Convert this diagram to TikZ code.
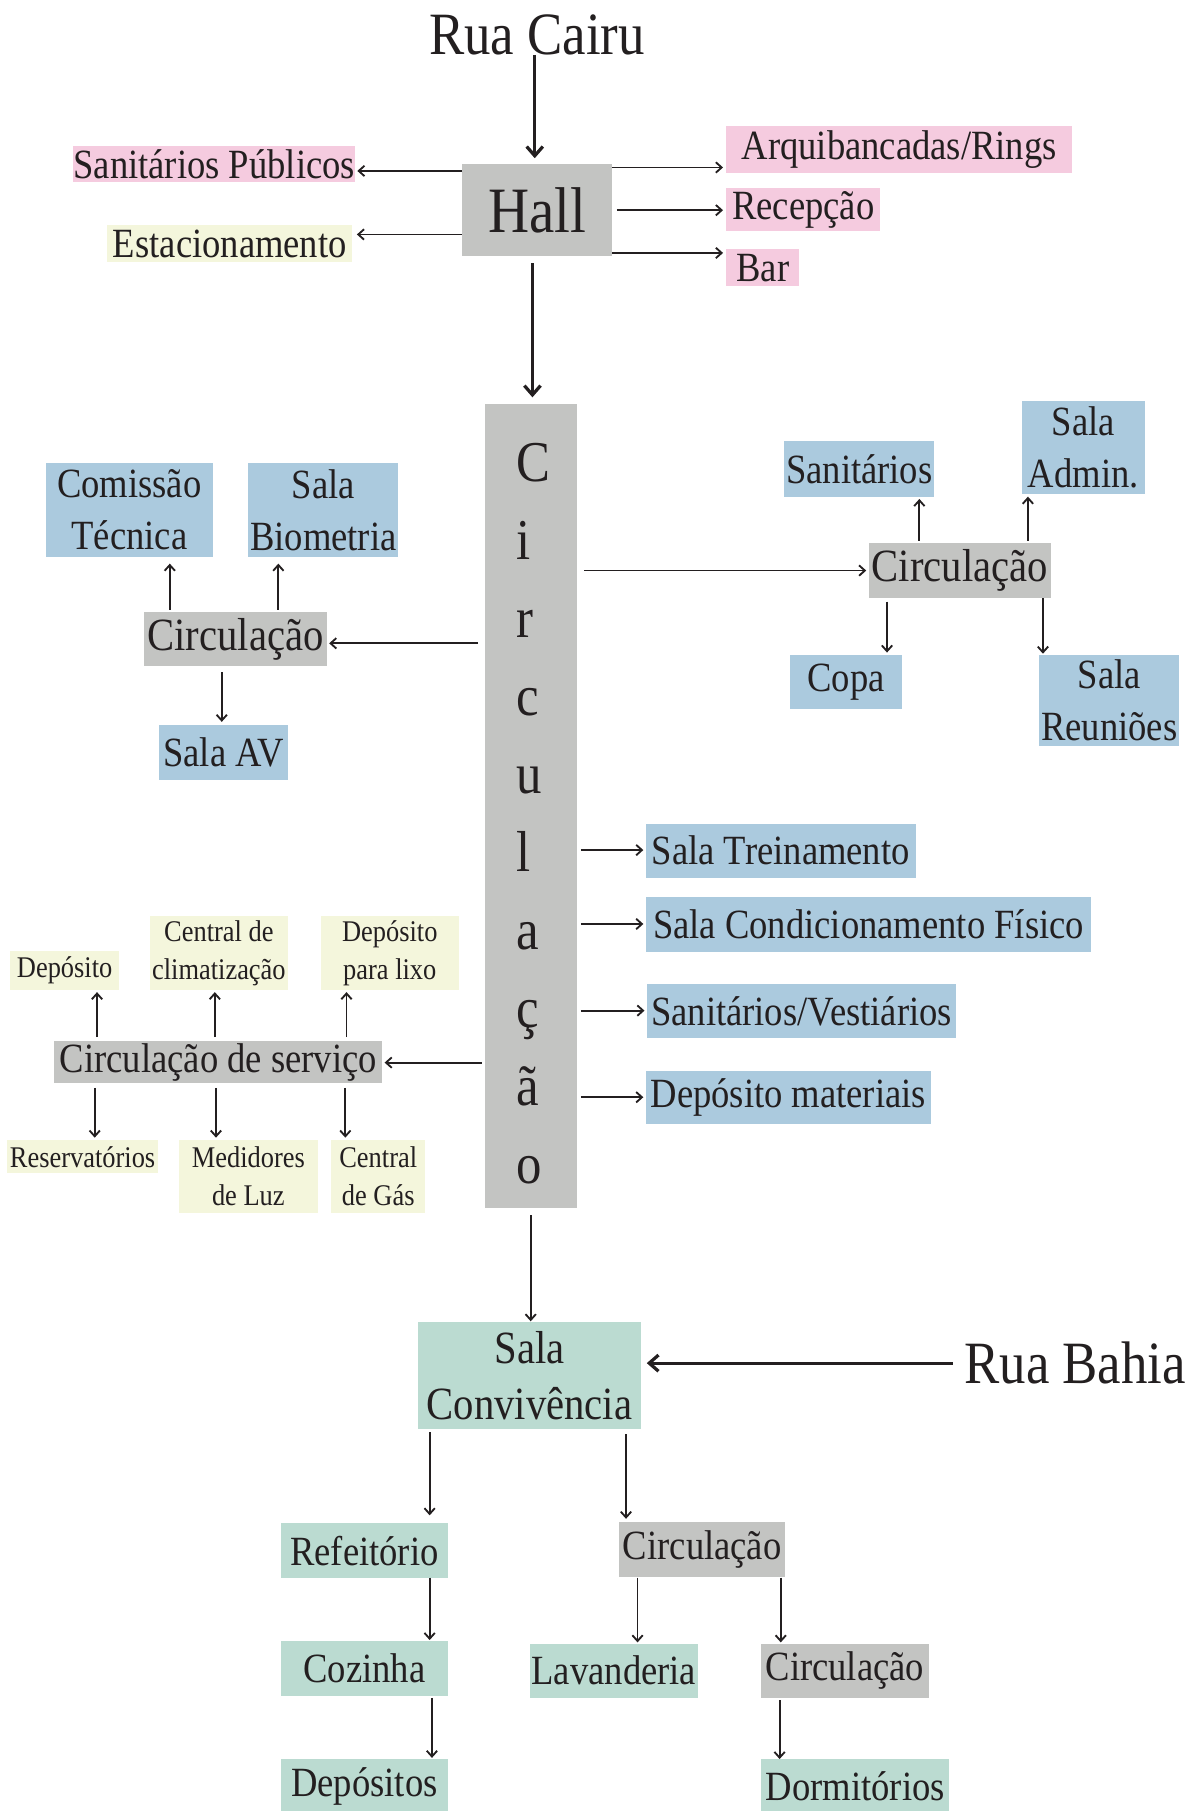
\documentclass[tikz,border=0pt]{standalone}
\usepackage{fontspec}
\setmainfont{Liberation Serif}[FakeStretch=0.88]
\usetikzlibrary{arrows.meta}
\definecolor{ink}{HTML}{231F20}
\definecolor{grayc}{HTML}{C3C4C2}
\definecolor{pinkc}{HTML}{F5CBDF}
\definecolor{yelc}{HTML}{F4F6DC}
\definecolor{bluec}{HTML}{ABCADE}
\definecolor{greenc}{HTML}{BBDBD1}
\tikzset{
  bx/.style={rectangle, inner sep=0pt, outer sep=0pt, text=ink, align=center},
  grayb/.style={bx, fill=grayc},
  pinkb/.style={bx, fill=pinkc},
  yelb/.style={bx, fill=yelc},
  blueb/.style={bx, fill=bluec},
  greenb/.style={bx, fill=greenc},
  fbig/.style={font=\fontsize{52}{60}\selectfont},
  fhall/.style={font=\fontsize{56}{60}\selectfont},
  fcol/.style={font=\fontsize{50}{50}\selectfont},
  fcirc/.style={font=\fontsize{40}{45}\selectfont},
  fconv/.style={font=\fontsize{40}{49}\selectfont},
  fmid/.style={font=\fontsize{36}{45}\selectfont},
  fsmall/.style={font=\fontsize{26}{33}\selectfont},
  arr/.style={draw=ink, line width=1.6pt, -{Straight Barb[length=5pt,width=9pt]}},
  bigarr/.style={draw=ink, line width=2.8pt, -{Straight Barb[length=8pt,width=14pt]}},
}
\begin{document}
\begin{tikzpicture}[x=1pt,y=-1pt]
\useasboundingbox (0,0) rectangle (1039,1568);
\clip (0,0) rectangle (1039,1568);

% ---- top ----
\node[bx, fbig, anchor=base] (cairu) at (465,47) {Rua Cairu};
\node[grayb, fhall, minimum width=130pt, minimum height=80pt] (hall) at (465,182) {Hall};
\node[pinkb, fmid, minimum width=239pt, minimum height=32pt] (sp) at (185.5,142) {Sanitários Públicos};
\node[yelb, fmid, minimum width=212pt, minimum height=32pt] (est) at (199,211) {Estacionamento};
\node[pinkb, fmid, minimum width=299pt, minimum height=41pt] (arq) at (778.5,129.5) {Arquibancadas/Rings};
\node[pinkb, fmid, minimum width=133pt, minimum height=37pt] (rec) at (695.5,181.5) {Recepção};
\node[pinkb, fmid, minimum width=63pt, minimum height=32pt] (bar) at (660.5,232) {Bar};

% ---- main column ----
\node[grayb, minimum width=80pt, minimum height=696pt] (col) at (460,698) {};
\foreach \l/\y [count=\i] in {C/417,i/484.5,r/552,c/619.5,u/687,l/754.5,a/822,ç/889.5,ã/957,o/1024.5}
  \node[bx, fcol, anchor=base west] (c\i) at (447,\y) {\l};

% ---- left upper ----
\node[grayb, fcirc, minimum width=158pt, minimum height=47pt] (circl) at (204,553.5) {Circulação};
\node[blueb, fmid, minimum width=144pt, minimum height=81pt] (comt) at (112,441.5) {Comissão\\Técnica};
\node[blueb, fmid, minimum width=130pt, minimum height=81pt] (bio) at (280,441.5) {Sala\\Biometria};
\node[blueb, fmid, minimum width=111pt, minimum height=47pt] (av) at (193.5,651.5) {Sala AV};

% ---- right upper ----
\node[grayb, fcirc, minimum width=158pt, minimum height=48pt] (circr) at (831,494) {Circulação};
\node[blueb, fmid, minimum width=130pt, minimum height=48pt] (san) at (744,406) {Sanitários};
\node[blueb, fmid, minimum width=106pt, minimum height=81pt] (adm) at (938,387.5) {Sala\\Admin.};
\node[blueb, fmid, minimum width=97pt, minimum height=47pt] (copa) at (732.5,590.5) {Copa};
\node[blueb, fmid, minimum width=121pt, minimum height=79pt] (reu) at (960.5,606.5) {Sala\\Reuniões};

% ---- right list ----
\node[blueb, fmid, minimum width=234pt, minimum height=47pt] (trein) at (676,736.5) {Sala Treinamento};
\node[blueb, fmid, minimum width=386pt, minimum height=47pt] (cond) at (752,800.5) {Sala Condicionamento Físico};
\node[blueb, fmid, minimum width=268pt, minimum height=47pt] (vest) at (694,875.5) {Sanitários/Vestiários};
\node[blueb, fmid, minimum width=247pt, minimum height=46pt] (depm) at (682.5,950) {Depósito materiais};

% ---- service ----
\node[grayb, fmid, minimum width=284pt, minimum height=37pt] (serv) at (189,919.5) {Circulação de serviço};
\node[yelb, fsmall, minimum width=94pt, minimum height=34pt] (dep) at (56,840) {Depósito};
\node[yelb, fsmall, minimum width=119pt, minimum height=64pt] (clim) at (189.5,825) {Central de\\climatização};
\node[yelb, fsmall, minimum width=119pt, minimum height=64pt] (lixo) at (337.5,825) {Depósito\\para lixo};
\node[yelb, fsmall, minimum width=131pt, minimum height=29pt] (res) at (71.5,1001.5) {Reservatórios};
\node[yelb, fsmall, minimum width=120pt, minimum height=63pt] (med) at (215,1018.5) {Medidores\\de Luz};
\node[yelb, fsmall, minimum width=81pt, minimum height=63pt] (gas) at (327.5,1018.5) {Central\\de Gás};

% ---- bottom ----
\node[greenb, fconv, minimum width=193pt, minimum height=92pt] (conv) at (458.5,1191) {Sala\\Convivência};
\node[bx, fbig, anchor=base west, inner xsep=10pt] (bahia) at (825,1198) {Rua Bahia};
\node[greenb, fmid, minimum width=145pt, minimum height=47pt] (ref) at (315.5,1342.5) {Refeitório};
\node[grayb, fmid, minimum width=144pt, minimum height=47pt] (circb1) at (608,1341.5) {Circulação};
\node[greenb, fmid, minimum width=145pt, minimum height=47pt] (coz) at (315.5,1444.5) {Cozinha};
\node[greenb, fmid, minimum width=145pt, minimum height=47pt] (lav) at (531.5,1446.5) {Lavanderia};
\node[grayb, fmid, minimum width=145pt, minimum height=47pt] (circb2) at (731.5,1446.5) {Circulação};
\node[greenb, fmid, minimum width=145pt, minimum height=47pt] (deps) at (315.5,1546.5) {Depósitos};
\node[greenb, fmid, minimum width=163pt, minimum height=47pt] (dorm) at (740.5,1546.5) {Dormitórios};

% ---- connectors ----
\draw[bigarr, shorten >=5pt] (cairu.south -| 463,0) -- (hall.north -| 463,0);
\draw[arr, shorten >=2pt] (hall.west |- 0,148) -- (sp.east |- 0,148);
\draw[arr, shorten >=4pt] (hall.west |- 0,203) -- (est.east |- 0,203);
\draw[arr, shorten >=3pt] (hall.east |- 0,145) -- (arq.west |- 0,145);
\draw[arr, shorten >=3pt, shorten <=4pt] (hall.east |- 0,182) -- (rec.west |- 0,182);
\draw[arr, shorten >=3pt] (hall.east |- 0,219) -- (bar.west |- 0,219);
\draw[bigarr, shorten <=6pt, shorten >=6pt] (hall.south -| 461,0) -- (col.north -| 461,0);

\draw[arr, shorten <=6pt, shorten >=2pt] (col.west |- 0,557) -- (circl.east |- 0,557);
\draw[arr, shorten <=2pt, shorten >=6pt] (circl.north -| 147,0) -- (comt.south -| 147,0);
\draw[arr, shorten <=2pt, shorten >=6pt] (circl.north -| 241,0) -- (bio.south -| 241,0);
\draw[arr, shorten <=5pt, shorten >=3pt] (circl.south -| 192,0) -- (av.north -| 192,0);

\draw[arr, shorten <=6pt, shorten >=2pt] (col.east |- 0,494) -- (circr.west |- 0,494);
\draw[arr, shorten <=2pt, shorten >=2pt] (circr.north -| 796,0) -- (san.south -| 796,0);
\draw[arr, shorten <=2pt, shorten >=2pt] (circr.north -| 890,0) -- (adm.south -| 890,0);
\draw[arr, shorten <=3pt, shorten >=2pt] (circr.south -| 768,0) -- (copa.north -| 768,0);
\draw[arr, shorten >=1pt] (circr.south -| 903,0) -- (reu.north -| 903,0);

\draw[arr, shorten <=3pt, shorten >=2pt] (col.east |- 0,736) -- (trein.west |- 0,736);
\draw[arr, shorten <=3pt, shorten >=2pt] (col.east |- 0,800) -- (cond.west |- 0,800);
\draw[arr, shorten <=3pt, shorten >=2pt] (col.east |- 0,875) -- (vest.west |- 0,875);
\draw[arr, shorten <=3pt, shorten >=2pt] (col.east |- 0,950) -- (depm.west |- 0,950);

\draw[arr, shorten <=3pt, shorten >=2pt] (col.west |- 0,920) -- (serv.east |- 0,920);
\draw[arr, shorten <=3pt, shorten >=2pt] (serv.north -| 84,0) -- (dep.south -| 84,0);
\draw[arr, shorten <=3pt, shorten >=2pt] (serv.north -| 186,0) -- (clim.south -| 186,0);
\draw[arr, shorten <=3pt, shorten >=2pt] (serv.north -| 300,0) -- (lixo.south -| 300,0);
\draw[arr, shorten <=4pt, shorten >=2pt] (serv.south -| 82,0) -- (res.north -| 82,0);
\draw[arr, shorten <=4pt, shorten >=2pt] (serv.south -| 187,0) -- (med.north -| 187,0);
\draw[arr, shorten <=4pt, shorten >=2pt] (serv.south -| 299,0) -- (gas.north -| 299,0);

\draw[arr, shorten <=6pt, shorten >=1pt] (col.south -| 459.5,0) -- (conv.north -| 459.5,0);
\draw[bigarr, shorten >=5pt] (bahia.west) -- (conv.east |- bahia.west);
\draw[arr, shorten <=3pt, shorten >=7pt] (conv.south -| 372,0) -- (ref.north -| 372,0);
\draw[arr, shorten <=5pt, shorten >=3pt] (conv.south -| 542,0) -- (circb1.north -| 542,0);
\draw[arr, shorten >=1pt] (ref.south -| 372,0) -- (coz.north -| 372,0);
\draw[arr, shorten <=1pt, shorten >=1pt] (circb1.south -| 552,0) -- (lav.north -| 552,0);
\draw[arr, shorten <=1pt, shorten >=1pt] (circb1.south -| 676,0) -- (circb2.north -| 676,0);
\draw[arr, shorten <=2pt, shorten >=1pt] (coz.south -| 374,0) -- (deps.north -| 374,0);
\draw[arr, shorten <=2pt] (circb2.south -| 675,0) -- (dorm.north -| 675,0);
\end{tikzpicture}
\end{document}
